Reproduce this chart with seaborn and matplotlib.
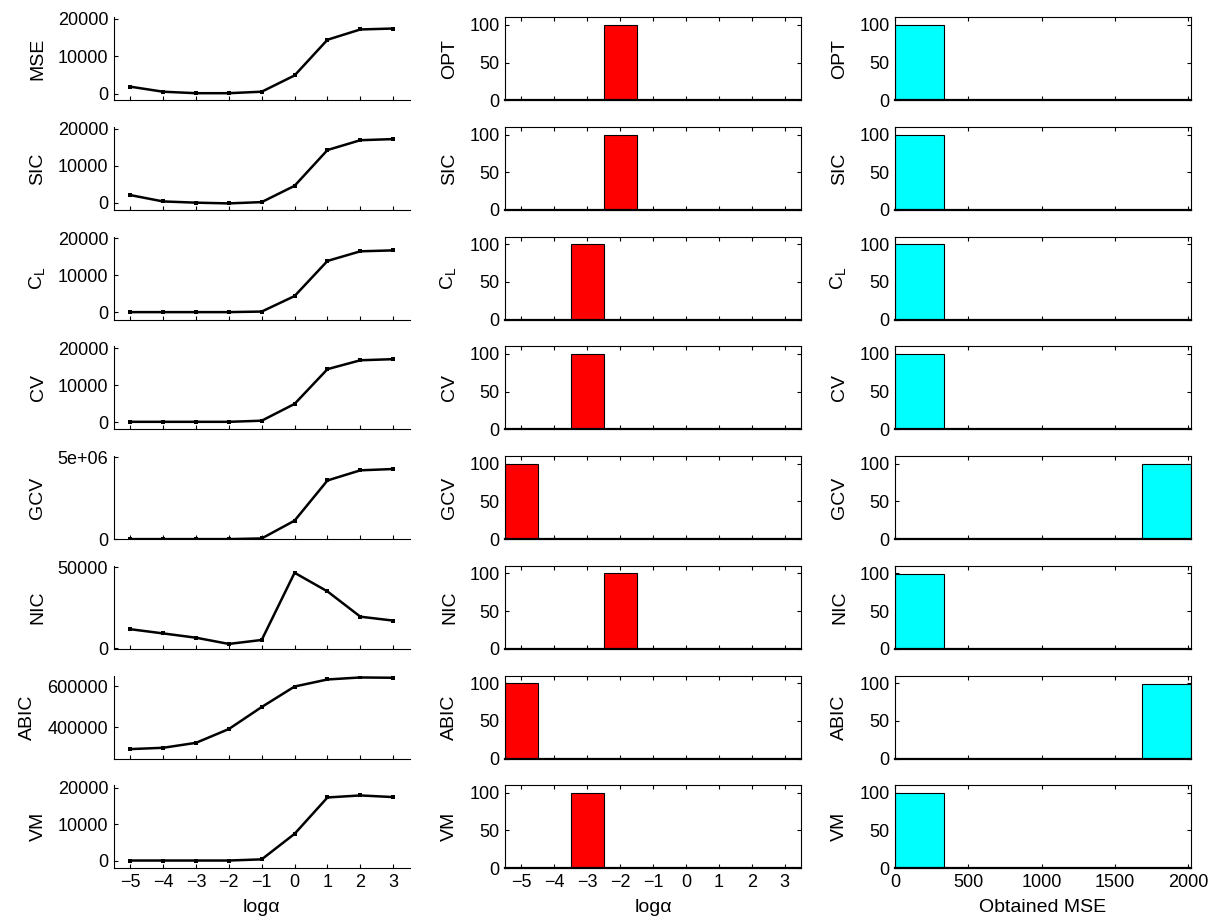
import numpy as np
import pandas as pd
import matplotlib
matplotlib.use("Agg")
import matplotlib.pyplot as plt
import seaborn as sns

# ---------------- data ----------------
log_alpha = [-5, -4, -3, -2, -1, 0, 1, 2, 3]
criteria = ["MSE", "SIC", "$\\mathregular{C_L}$", "CV", "GCV", "NIC", "ABIC", "VM"]
hist_labels = ["OPT", "SIC", "$\\mathregular{C_L}$", "CV", "GCV", "NIC", "ABIC", "VM"]

mse_curve = [1900, 550, 150, 150, 550, 4900, 14450, 17200, 17450]
sic_curve = [2100, 380, 50, -150, 200, 4600, 14250, 16900, 17200]
cl_curve = [50, 50, 50, 50, 200, 4400, 13900, 16500, 16750]
cv_curve = [50, 50, 50, 50, 350, 4900, 14300, 16700, 17000]
gcv_curve = [0, 0, 0, 0, 40000, 1130000, 3590000, 4210000, 4290000]
nic_curve = [11700, 9100, 6450, 2600, 5050, 46500, 35000, 19400, 17000]
abic_curve = [294600, 301000, 325000, 392000, 499000, 598500, 632700, 642500, 641000]
vm_curve = [50, 50, 50, 50, 370, 7350, 17300, 17850, 17400]
curves = [mse_curve, sic_curve, cl_curve, cv_curve, gcv_curve, nic_curve, abic_curve, vm_curve]

# selected log(alpha) counts (per bin -5..3), out of 100 trials
opt_sel = [0, 0, 0, 100, 0, 0, 0, 0, 0]
sic_sel = [0, 0, 0, 100, 0, 0, 0, 0, 0]
cl_sel = [0, 0, 100, 0, 0, 0, 0, 0, 0]
cv_sel = [0, 0, 100, 0, 0, 0, 0, 0, 0]
gcv_sel = [100, 0, 0, 0, 0, 0, 0, 0, 0]
nic_sel = [0, 0, 0, 100, 0, 0, 0, 0, 0]
abic_sel = [100, 0, 0, 0, 0, 0, 0, 0, 0]
vm_sel = [0, 0, 100, 0, 0, 0, 0, 0, 0]
selections = [opt_sel, sic_sel, cl_sel, cv_sel, gcv_sel, nic_sel, abic_sel, vm_sel]

# obtained MSE histogram (6 bins over 0..2019)
mse_bin_edges = [0, 336.5, 673, 1009.5, 1346, 1682.5, 2019]
opt_mse = [100, 0, 0, 0, 0, 0]
sic_mse = [100, 0, 0, 0, 0, 0]
cl_mse = [100, 0, 0, 0, 0, 0]
cv_mse = [100, 0, 0, 0, 0, 0]
gcv_mse = [0, 0, 0, 0, 0, 99]
nic_mse = [99, 0, 0, 0, 0, 0]
abic_mse = [0, 0, 0, 0, 0, 99]
vm_mse = [99, 0, 0, 0, 0, 0]
mse_hists = [opt_mse, sic_mse, cl_mse, cv_mse, gcv_mse, nic_mse, abic_mse, vm_mse]

# ---------------- style ----------------
sns.set_theme(style="white")
plt.rcParams["font.family"] = ["Liberation Sans", "DejaVu Sans"]
plt.rcParams["font.size"] = 13
plt.rcParams["text.color"] = "black"
plt.rcParams["axes.labelcolor"] = "black"
plt.rcParams["xtick.color"] = "black"
plt.rcParams["ytick.color"] = "black"
plt.rcParams["axes.linewidth"] = 0.8
plt.rcParams["xtick.direction"] = "in"
plt.rcParams["ytick.direction"] = "in"

W, H = 1212, 922
fig = plt.figure(figsize=(W / 100, H / 100), dpi=100)

col_left = [113.7, 505, 895]
col_w = 296
row_top0 = 17.3
row_step = 109.7
row_h = 83
YPAD = 8
XPAD = 6
LBL = 14

ylims_left = [(-1750, 20450), (-1930, 20460), (-2000, 20450), (-2000, 20450),
              (0, 5.08e6), (-400, 50800), (249000, 652000), (-2050, 20650)]
yticks_left = [[0, 10000, 20000]] * 4 + [[0, 5e6], [0, 50000], [400000, 600000], [0, 10000, 20000]]
yticklabels_left = [["0", "10000", "20000"]] * 4 + [["0", "5e+06"], ["0", "50000"],
                                                     ["400000", "600000"], ["0", "10000", "20000"]]

alpha_edges = [v - 0.5 for v in log_alpha] + [log_alpha[-1] + 0.5]
mse_centers = [(mse_bin_edges[i] + mse_bin_edges[i + 1]) / 2 for i in range(6)]


def make_ax(col, row):
    top = row_top0 + row_step * row
    rect = [col_left[col] / W, 1 - (top + row_h) / H, col_w / W, row_h / H]
    return fig.add_axes(rect)


def style_box(ax):
    for s in ax.spines.values():
        s.set_visible(True)
        s.set_color("black")
        s.set_linewidth(0.8)
    ax.spines["bottom"].set_linewidth(1.6)
    ax.tick_params(axis="both", direction="in", length=3, width=0.8, colors="black",
                   labelsize=13, top=True, right=True, bottom=True, left=True, pad=4)


for r in range(8):
    last = r == 7
    # ---- left: criterion curve ----
    ax = make_ax(0, r)
    df = pd.DataFrame({"x": log_alpha, "y": curves[r]})
    sns.lineplot(data=df, x="x", y="y", ax=ax, color="black", linewidth=1.8,
                 marker="s", markersize=3, markeredgewidth=0)
    ax.set_xlim(-5.5, 3.5)
    ax.set_ylim(*ylims_left[r])
    ax.set_yticks(yticks_left[r])
    ax.set_yticklabels(yticklabels_left[r])
    ax.set_xticks(log_alpha)
    for s in ["top", "right"]:
        ax.spines[s].set_visible(False)
    for s in ["left", "bottom"]:
        ax.spines[s].set_color("black")
        ax.spines[s].set_linewidth(0.8)
    ax.tick_params(axis="both", direction="in", length=3, width=0.8, colors="black",
                   labelsize=13, bottom=True, left=True, pad=4)
    if not last:
        ax.set_xticklabels([])
        ax.set_xlabel("")
    else:
        ax.set_xlabel("log\u03b1", fontsize=LBL, labelpad=XPAD)
    ax.set_ylabel(criteria[r], fontsize=LBL, labelpad=YPAD)

    # ---- middle: selected log(alpha) histogram ----
    ax = make_ax(1, r)
    dfs = pd.DataFrame({"a": log_alpha, "n": selections[r]})
    sns.histplot(data=dfs, x="a", weights="n", bins=alpha_edges, ax=ax,
                 color="red", alpha=1.0, edgecolor="black", linewidth=0.8)
    ax.set_xlim(-5.5, 3.5)
    ax.set_ylim(0, 110)
    ax.set_yticks([0, 50, 100])
    ax.set_xticks(log_alpha)
    style_box(ax)
    ax.set_ylabel(hist_labels[r], fontsize=LBL, labelpad=YPAD)
    if not last:
        ax.set_xticklabels([])
        ax.set_xlabel("")
    else:
        ax.set_xlabel("log\u03b1", fontsize=LBL, labelpad=XPAD)

    # ---- right: obtained MSE histogram ----
    ax = make_ax(2, r)
    dfm = pd.DataFrame({"m": mse_centers, "n": mse_hists[r]})
    sns.histplot(data=dfm, x="m", weights="n", bins=mse_bin_edges, ax=ax,
                 color="cyan", alpha=1.0, edgecolor="black", linewidth=0.8)
    ax.set_xlim(0, 2019)
    ax.set_ylim(0, 110)
    ax.set_yticks([0, 50, 100])
    ax.set_xticks([0, 500, 1000, 1500, 2000])
    style_box(ax)
    ax.set_ylabel(hist_labels[r], fontsize=LBL, labelpad=YPAD)
    if not last:
        ax.set_xticklabels([])
        ax.set_xlabel("")
    else:
        ax.set_xlabel("Obtained MSE", fontsize=LBL, labelpad=XPAD)

fig.savefig("out.png", dpi=100, facecolor="white")
